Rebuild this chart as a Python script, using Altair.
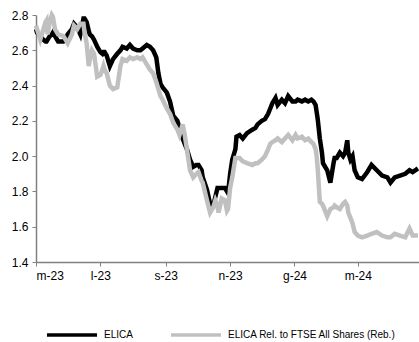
import altair as alt
import pandas as pd

dates = [
    "2023/05/01", "2023/05/02", "2023/05/05", "2023/05/08", "2023/05/10", "2023/05/11", "2023/05/12",
    "2023/05/14", "2023/05/16", "2023/05/17", "2023/05/19", "2023/05/22", "2023/05/27", "2023/05/29",
    "2023/05/31", "2023/06/04", "2023/06/06", "2023/06/09", "2023/06/12", "2023/06/15", "2023/06/16",
    "2023/06/18", "2023/06/20", "2023/06/21", "2023/06/23", "2023/06/25", "2023/06/28", "2023/07/01",
    "2023/07/03", "2023/07/04", "2023/07/05", "2023/07/07", "2023/07/10", "2023/07/13", "2023/07/17",
    "2023/07/20", "2023/07/22", "2023/07/26", "2023/07/29", "2023/08/01", "2023/08/05", "2023/08/08",
    "2023/08/10", "2023/08/14", "2023/08/17", "2023/08/20", "2023/08/23", "2023/08/25", "2023/08/27",
    "2023/08/29", "2023/09/02", "2023/09/05", "2023/09/08", "2023/09/12", "2023/09/14", "2023/09/17",
    "2023/09/19", "2023/09/21", "2023/09/24", "2023/09/27", "2023/09/30", "2023/10/02", "2023/10/05",
    "2023/10/06", "2023/10/10", "2023/10/13", "2023/10/16", "2023/10/18", "2023/10/20", "2023/10/21",
    "2023/10/24", "2023/10/27", "2023/10/29", "2023/10/30", "2023/11/01", "2023/11/03", "2023/11/06",
    "2023/11/07", "2023/11/10", "2023/11/13", "2023/11/17", "2023/11/22", "2023/11/25", "2023/11/27",
    "2023/12/01", "2023/12/04", "2023/12/07", "2023/12/09", "2023/12/11", "2023/12/14", "2023/12/16",
    "2023/12/20", "2023/12/23", "2023/12/26", "2023/12/30", "2024/01/02", "2024/01/04", "2024/01/08",
    "2024/01/11", "2024/01/14", "2024/01/17", "2024/01/19", "2024/01/21", "2024/01/22", "2024/01/23",
    "2024/01/25", "2024/01/27", "2024/01/28", "2024/02/01", "2024/02/04", "2024/02/07", "2024/02/08",
    "2024/02/10", "2024/02/13", "2024/02/16", "2024/02/18", "2024/02/20", "2024/02/21", "2024/02/23",
    "2024/02/25", "2024/02/27", "2024/03/01", "2024/03/05", "2024/03/10", "2024/03/14", "2024/03/19",
    "2024/03/24", "2024/03/29", "2024/04/01", "2024/04/05", "2024/04/10", "2024/04/15", "2024/04/19",
    "2024/04/22", "2024/04/27",
]

elica = [
    2.72, 2.70, 2.68, 2.66, 2.65, 2.65, 2.66,
    2.68, 2.69, 2.70, 2.68, 2.65, 2.65, 2.66,
    2.69, 2.72, 2.75, 2.73, 2.69, 2.78, 2.78,
    2.76, 2.71, 2.69, 2.68, 2.66, 2.62, 2.59,
    2.58, 2.59, 2.59, 2.57, 2.51, 2.55, 2.58,
    2.60, 2.62, 2.61, 2.63, 2.61, 2.60, 2.60,
    2.61, 2.63, 2.62, 2.60, 2.56, 2.47, 2.41,
    2.39, 2.36, 2.31, 2.23, 2.20, 2.16, 2.10,
    2.07, 2.04, 1.98, 1.94, 1.95, 1.95, 1.92,
    1.88, 1.81, 1.73, 1.72, 1.77, 1.82, 1.82,
    1.82, 1.82, 1.80, 1.79, 1.90, 1.98, 2.04,
    2.11, 2.12, 2.10, 2.13, 2.15, 2.16, 2.18,
    2.20, 2.21, 2.24, 2.27, 2.30, 2.33, 2.29,
    2.32, 2.30, 2.34, 2.31, 2.31, 2.32, 2.31,
    2.32, 2.31, 2.32, 2.31, 2.29, 2.25, 2.21,
    2.10, 2.02, 1.96, 1.92, 1.85, 1.96, 1.99,
    1.99, 2.02, 2.00, 2.02, 2.09, 2.02, 1.98,
    2.00, 1.92, 1.88, 1.87, 1.91, 1.95, 1.92,
    1.89, 1.88, 1.85, 1.88, 1.89, 1.90, 1.92,
    1.91, 1.93,
]

elica_rel = [
    2.74, 2.72, 2.66, 2.72, 2.76, 2.77, 2.69,
    2.76, 2.80, 2.79, 2.72, 2.69, 2.68, 2.66,
    2.64, 2.69, 2.74, 2.72, 2.75, 2.75, 2.70,
    2.64, 2.51, 2.55, 2.60, 2.58, 2.45, 2.46,
    2.49, 2.51, 2.49, 2.47, 2.40, 2.38, 2.39,
    2.51, 2.55, 2.54, 2.56, 2.55, 2.56, 2.55,
    2.56, 2.52, 2.49, 2.47, 2.42, 2.38, 2.34,
    2.32, 2.27, 2.24, 2.19, 2.15, 2.12, 2.18,
    2.12, 2.04, 1.92, 1.88, 1.90, 1.91, 1.86,
    1.85, 1.75, 1.68, 1.71, 1.75, 1.72, 1.68,
    1.76, 1.75, 1.69, 1.70, 1.82, 1.88, 1.99,
    1.99, 1.99, 1.97, 1.96, 1.95, 1.96, 1.96,
    1.98, 2.00, 2.04, 2.07, 2.08, 2.09, 2.10,
    2.08, 2.10, 2.12, 2.09, 2.12, 2.10, 2.11,
    2.09, 2.10, 2.08, 2.07, 2.04, 2.00, 1.93,
    1.74, 1.73, 1.72, 1.66, 1.70, 1.71, 1.72,
    1.71, 1.70, 1.73, 1.74, 1.72, 1.68, 1.65,
    1.62, 1.57, 1.55, 1.54, 1.55, 1.56, 1.57,
    1.55, 1.54, 1.54, 1.56, 1.55, 1.54, 1.59,
    1.55, 1.55,
]

names = ["ELICA", "ELICA Rel. to FTSE All Shares (Reb.)"]
colors = ["#000000", "#c0c0c0"]
y_ticks = [1.4, 1.6, 1.8, 2.0, 2.2, 2.4, 2.6, 2.8]

df = pd.DataFrame({"date": dates, names[0]: elica, names[1]: elica_rel})
long = df.melt("date", var_name="series", value_name="price")

x_ticks = [
    alt.DateTime(year=2023, month=5, date=1),
    alt.DateTime(year=2023, month=7, date=1),
    alt.DateTime(year=2023, month=9, date=1),
    alt.DateTime(year=2023, month=11, date=1),
    alt.DateTime(year=2024, month=1, date=1),
    alt.DateTime(year=2024, month=3, date=1),
]

x = alt.X(
    "date:T",
    scale=alt.Scale(domain=[alt.DateTime(year=2023, month=5, date=1),
                            alt.DateTime(year=2024, month=4, date=28)]),
    axis=alt.Axis(
        values=x_ticks,
        labelExpr="['g','f','m','a','m','g','l','a','s','o','n','d'][month(datum.value)] + '-' + timeFormat(datum.value, '%y')",
        title=None,
        grid=False,
        tickSize=4,
        labelPadding=4,
    ),
)
y = alt.Y(
    "price:Q",
    scale=alt.Scale(domain=[1.4, 2.8], nice=False, zero=False),
    axis=alt.Axis(values=y_ticks, format=".1f", title=None, grid=False, tickSize=4, labelPadding=4),
)
color = alt.Color(
    "series:N",
    scale=alt.Scale(domain=names, range=colors),
    legend=alt.Legend(
        title=None,
        orient="none",
        legendX=9,
        legendY=293,
        direction="horizontal",
        symbolType="stroke",
        symbolSize=2500,
        symbolStrokeWidth=3.5,
        labelFontSize=10,
        labelFont="Liberation Sans",
        labelColor="#000000",
        labelOffset=5,
        labelLimit=400,
        columnPadding=31,
    ),
)

base = alt.Chart(long)
black = base.transform_filter(alt.datum.series == names[0]).mark_line(strokeWidth=4.5).encode(x=x, y=y, color=color)
gray = base.transform_filter(alt.datum.series == names[1]).mark_line(strokeWidth=4.5).encode(x=x, y=y, color=color)

chart = alt.layer(black, gray).properties(
    width=383,
    height=247,
    autosize="none",
    padding={"left": 36, "top": 15, "right": 0, "bottom": 80},
).configure_view(stroke=None).configure_axis(
    labelFont="Liberation Sans",
    labelFontSize=12,
    labelColor="#000000",
    domainColor="#808080",
    tickColor="#808080",
    domainWidth=1.5,
)

chart.save("out.html", embed_options={"renderer": "svg", "actions": False})
